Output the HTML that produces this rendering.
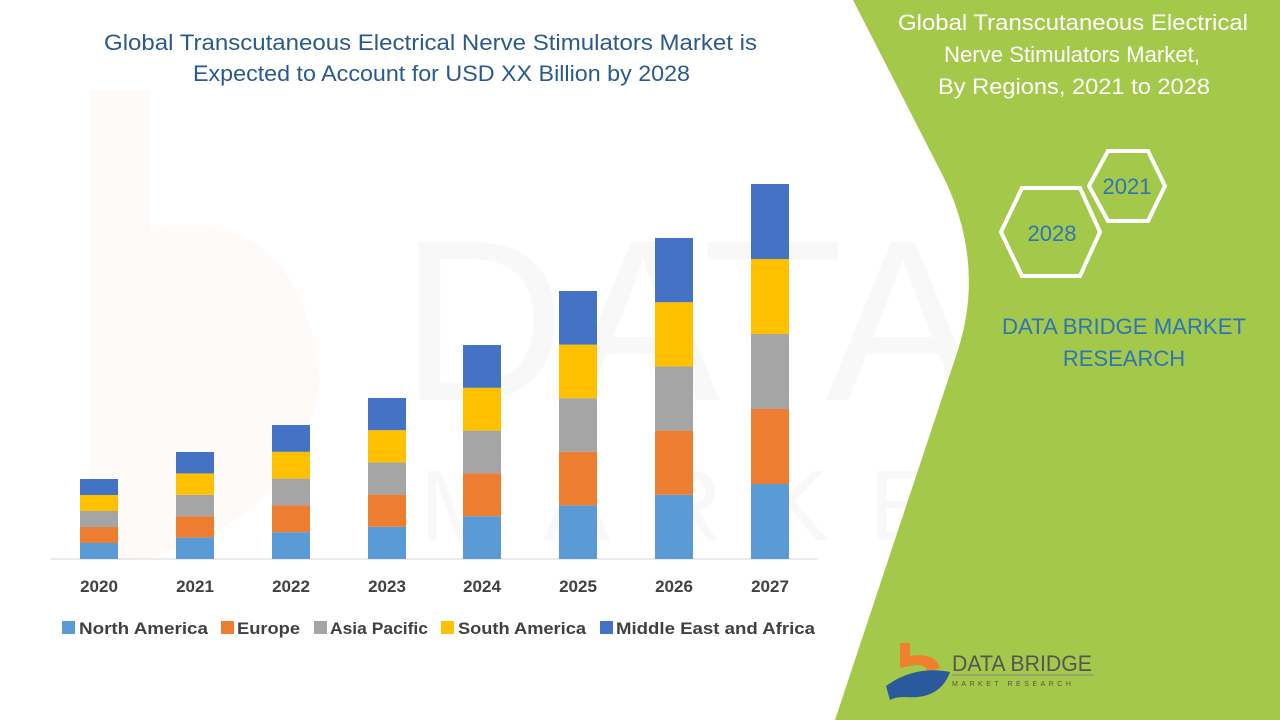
<!DOCTYPE html>
<html><head><meta charset="utf-8"><style>
body{margin:0;width:1280px;height:720px;overflow:hidden;background:#fff;font-family:"Liberation Sans",sans-serif}
</style></head><body>
<svg width="1280" height="720" xmlns="http://www.w3.org/2000/svg" style="position:absolute;left:0;top:0">
<rect width="1280" height="720" fill="#fff"/>
<g opacity="0.035">
<path d="M90,90 L150,90 L150,230 Q300,200 320,380 Q300,520 140,560 L90,560 Z" fill="#e87c2a"/>
<text x="400" y="400" font-size="230" fill="#555" font-family="Liberation Sans Narrow, Liberation Sans, sans-serif">DATA BRIDGE</text>
<text x="420" y="540" font-size="100" fill="#555" letter-spacing="40">MARKET RESEARCH</text>
</g>
<path d="M853,0 L945,180 Q985,265 958,350 L835,720 L1280,720 L1280,0 Z" fill="#a4c84a"/>
<text x="104" y="50" font-size="22" fill="#2a5a8c" textLength="653" lengthAdjust="spacingAndGlyphs">Global Transcutaneous Electrical Nerve Stimulators Market is</text>
<text x="193" y="81" font-size="22" fill="#2a5a8c" textLength="497" lengthAdjust="spacingAndGlyphs">Expected to Account for USD XX Billion by 2028</text>
<line x1="50" y1="559" x2="818" y2="559" stroke="#d9d9d9" stroke-width="1"/>
<g id="bars"></g>
<g font-size="17" font-weight="bold" fill="#404040" text-anchor="middle">
<text x="99" y="592">2020</text><text x="195" y="592">2021</text><text x="291" y="592">2022</text><text x="387" y="592">2023</text><text x="482" y="592">2024</text><text x="578" y="592">2025</text><text x="674" y="592">2026</text><text x="770" y="592">2027</text>
</g>
<g font-size="17" font-weight="bold" fill="#404040">
<rect x="62" y="621" width="13" height="13" fill="#5b9bd5"/><text x="79" y="634" textLength="129" lengthAdjust="spacingAndGlyphs">North America</text>
<rect x="221" y="621" width="13" height="13" fill="#ed7d31"/><text x="237" y="634" textLength="63" lengthAdjust="spacingAndGlyphs">Europe</text>
<rect x="314" y="621" width="13" height="13" fill="#a5a5a5"/><text x="330" y="634" textLength="98" lengthAdjust="spacingAndGlyphs">Asia Pacific</text>
<rect x="441" y="621" width="13" height="13" fill="#ffc000"/><text x="458" y="634" textLength="128" lengthAdjust="spacingAndGlyphs">South America</text>
<rect x="600" y="621" width="13" height="13" fill="#4472c4"/><text x="616" y="634" textLength="199" lengthAdjust="spacingAndGlyphs">Middle East and Africa</text>
</g>
<g fill="#fff" font-size="22">
<text x="898" y="30" textLength="350" lengthAdjust="spacingAndGlyphs">Global Transcutaneous Electrical</text>
<text x="944" y="62" textLength="256" lengthAdjust="spacingAndGlyphs">Nerve Stimulators Market,</text>
<text x="938" y="94" textLength="272" lengthAdjust="spacingAndGlyphs">By Regions, 2021 to 2028</text>
</g>
<polygon points="1108,151 1148,151 1165,186 1148,221 1108,221 1089,186" fill="none" stroke="#fff" stroke-width="4"/>
<polygon points="1022,188 1080,188 1100,232 1080,276 1022,276 1001,232" fill="none" stroke="#fff" stroke-width="4"/>
<text x="1127" y="194" font-size="22" fill="#2e75b6" text-anchor="middle">2021</text>
<text x="1052" y="241" font-size="22" fill="#2e75b6" text-anchor="middle">2028</text>
<text x="1002" y="334" font-size="22" fill="#2e75b6" textLength="244" lengthAdjust="spacingAndGlyphs">DATA BRIDGE MARKET</text>
<text x="1124" y="366" font-size="22" fill="#2e75b6" text-anchor="middle">RESEARCH</text>
<path d="M900,643 L910,643 L910,656 Q935,652 940,668 L928,672 Q925,662 910,666 L900,668 Z" fill="#f07f2e"/>
<path d="M886,686 Q915,665 950,672 Q940,700 905,697 Q895,697 890,700 Z" fill="#2a5a9c"/>
<text x="952" y="671" font-size="22" fill="#555" font-family="Liberation Sans Narrow, Liberation Sans, sans-serif" textLength="140" lengthAdjust="spacingAndGlyphs">DATA BRIDGE</text>
<line x1="952" y1="675" x2="1094" y2="675" stroke="#888" stroke-width="1"/>
<text x="952" y="686" font-size="7" fill="#555" letter-spacing="3.5">MARKET  RESEARCH</text>
</svg>
<script>
const data=[[99,16],[195,21.4],[291,26.8],[387,32.2],[482,42.8],[578,53.6],[674,64.2],[770,75]];
const cols=["#5b9bd5","#ed7d31","#a5a5a5","#ffc000","#4472c4"];
let s="";
for(const [c,h] of data){for(let i=0;i<5;i++){const y=559-(i+1)*h;s+=`<rect x="${c-19}" y="${y}" width="38" height="${h}" fill="${cols[i]}"/>`;}}
document.getElementById("bars").innerHTML=s;
</script>
</body></html>
